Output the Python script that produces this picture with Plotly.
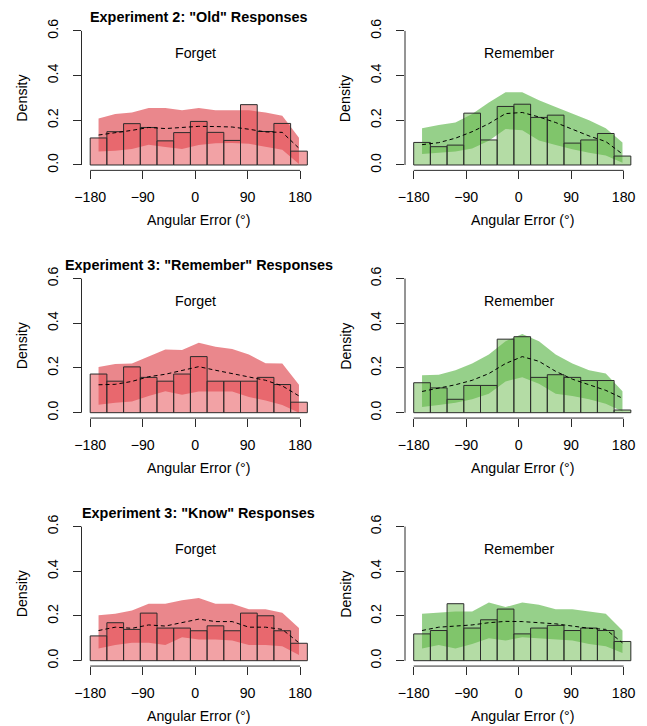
import math
import plotly.graph_objects as go

# ---------------- data ----------------
TITLES = ['Experiment 2: "Old" Responses',
          'Experiment 3: "Remember" Responses',
          'Experiment 3: "Know" Responses']
CONDITIONS = ["Forget", "Remember"]
X_TICKS = [-180, -90, 0, 90, 180]
X_TICKTEXT = ["\u2212180", "\u221290", "0", "90", "180"]
Y_TICKS = [0, 0.2, 0.4, 0.6]
Y_TICKTEXT = ["0.0", "0.2", "0.4", "0.6"]
BIN_WIDTH_RAD = 0.5
N_BINS = 13

# Experiment 2, "Old" responses
old_forget_hist = [0.121, 0.149, 0.185, 0.168, 0.108, 0.145, 0.195, 0.146, 0.110, 0.270, 0.150, 0.186, 0.062]
old_forget_mean = [0.134, 0.143, 0.155, 0.168, 0.163, 0.168, 0.173, 0.172, 0.170, 0.160, 0.148, 0.146, 0.075]
old_forget_hi = [0.208, 0.228, 0.235, 0.255, 0.255, 0.245, 0.255, 0.245, 0.245, 0.245, 0.235, 0.220, 0.122]
old_forget_lo = [0.060, 0.064, 0.072, 0.091, 0.080, 0.072, 0.089, 0.097, 0.098, 0.095, 0.082, 0.068, 0.005]

old_remember_hist = [0.101, 0.082, 0.089, 0.232, 0.112, 0.262, 0.272, 0.213, 0.223, 0.098, 0.112, 0.141, 0.040]
old_remember_mean = [0.091, 0.100, 0.120, 0.149, 0.185, 0.230, 0.235, 0.215, 0.190, 0.160, 0.130, 0.105, 0.049]
old_remember_hi = [0.164, 0.179, 0.190, 0.228, 0.280, 0.325, 0.325, 0.290, 0.260, 0.230, 0.200, 0.165, 0.101]
old_remember_lo = [0.049, 0.055, 0.060, 0.074, 0.109, 0.161, 0.155, 0.110, 0.090, 0.070, 0.055, 0.042, 0.010]

# Experiment 3, "Remember" responses
rem_forget_hist = [0.173, 0.141, 0.205, 0.158, 0.141, 0.173, 0.251, 0.141, 0.141, 0.141, 0.158, 0.126, 0.047]
rem_forget_mean = [0.125, 0.127, 0.140, 0.161, 0.172, 0.190, 0.206, 0.190, 0.175, 0.160, 0.145, 0.120, 0.075]
rem_forget_hi = [0.205, 0.218, 0.220, 0.250, 0.283, 0.280, 0.313, 0.295, 0.285, 0.260, 0.221, 0.220, 0.125]
rem_forget_lo = [0.036, 0.045, 0.050, 0.075, 0.096, 0.080, 0.095, 0.095, 0.095, 0.070, 0.055, 0.035, 0.000]

rem_remember_hist = [0.134, 0.111, 0.060, 0.122, 0.122, 0.329, 0.340, 0.158, 0.170, 0.158, 0.144, 0.144, 0.012]
rem_remember_mean = [0.095, 0.110, 0.125, 0.145, 0.175, 0.220, 0.251, 0.230, 0.185, 0.150, 0.125, 0.100, 0.065]
rem_remember_hi = [0.168, 0.170, 0.190, 0.220, 0.260, 0.320, 0.352, 0.320, 0.260, 0.220, 0.190, 0.175, 0.096]
rem_remember_lo = [0.026, 0.035, 0.045, 0.060, 0.085, 0.140, 0.159, 0.130, 0.085, 0.075, 0.060, 0.040, 0.005]

# Experiment 3, "Know" responses
know_forget_hist = [0.111, 0.170, 0.140, 0.213, 0.146, 0.146, 0.134, 0.156, 0.134, 0.213, 0.201, 0.134, 0.078]
know_forget_mean = [0.135, 0.150, 0.145, 0.160, 0.155, 0.170, 0.186, 0.175, 0.175, 0.150, 0.150, 0.140, 0.080]
know_forget_hi = [0.203, 0.210, 0.225, 0.255, 0.255, 0.270, 0.280, 0.255, 0.255, 0.230, 0.230, 0.215, 0.146]
know_forget_lo = [0.055, 0.070, 0.080, 0.080, 0.070, 0.105, 0.095, 0.095, 0.090, 0.070, 0.070, 0.065, 0.025]

know_remember_hist = [0.120, 0.135, 0.255, 0.146, 0.183, 0.231, 0.120, 0.146, 0.158, 0.135, 0.146, 0.135, 0.086]
know_remember_mean = [0.135, 0.150, 0.155, 0.160, 0.170, 0.176, 0.175, 0.170, 0.165, 0.155, 0.145, 0.140, 0.080]
know_remember_hi = [0.210, 0.215, 0.220, 0.220, 0.260, 0.240, 0.260, 0.250, 0.230, 0.230, 0.220, 0.210, 0.135]
know_remember_lo = [0.055, 0.070, 0.055, 0.075, 0.100, 0.090, 0.105, 0.100, 0.095, 0.090, 0.075, 0.065, 0.035]

PANELS = [
    [(old_forget_hist, old_forget_mean, old_forget_lo, old_forget_hi),
     (old_remember_hist, old_remember_mean, old_remember_lo, old_remember_hi)],
    [(rem_forget_hist, rem_forget_mean, rem_forget_lo, rem_forget_hi),
     (rem_remember_hist, rem_remember_mean, rem_remember_lo, rem_remember_hi)],
    [(know_forget_hist, know_forget_mean, know_forget_lo, know_forget_hi),
     (know_remember_hist, know_remember_mean, know_remember_lo, know_remember_hi)],
]

# ---------------- styling ----------------
W, H = 647, 726
FONT = "Liberation Sans, Arial, Helvetica, sans-serif"
FS = 14.2
AXCOL = "#2b2b2b"
BAND = ["rgba(220,55,63,0.6)", "rgba(80,177,60,0.6)"]
BARFILL = ["rgba(230,77,82,0.52)", "rgba(106,185,75,0.5)"]

bw = BIN_WIDTH_RAD * 180 / math.pi
centers = [-180 + (k + 0.5) * bw for k in range(N_BINS)]
XR = [-194.9, 207.3]
YR = [-0.024, 0.624]

COL_LEFT = [81.5, 405.0]
PLOT_W = 234.5
ROW_Y0 = [165.0, 412.7, 660.7]   # pixel y of density 0
PX_PER_UNIT = 223.5


def px(x):
    return x / W


def py(y):
    return 1 - y / H


fig = go.Figure()
layout = dict(template="none", width=W, height=H,
              margin=dict(l=0, r=0, t=0, b=0, autoexpand=False),
              paper_bgcolor="white", plot_bgcolor="rgba(0,0,0,0)",
              showlegend=False, font=dict(family=FONT, size=FS, color="black"),
              barmode="overlay")
annotations = []
shapes = []

idx = 0
for r in range(3):
    top = ROW_Y0[r] - YR[1] * PX_PER_UNIT
    bot = ROW_Y0[r] - YR[0] * PX_PER_UNIT
    for c in range(2):
        hist, mean, lo, hi = PANELS[r][c]
        left = COL_LEFT[c]
        right = left + PLOT_W
        a_base = 2 * idx + 1
        a_over = 2 * idx + 2
        xb = "x" if a_base == 1 else f"x{a_base}"
        yb = "y" if a_base == 1 else f"y{a_base}"
        xo, yo = f"x{a_over}", f"y{a_over}"
        kx_b = "xaxis" if a_base == 1 else f"xaxis{a_base}"
        ky_b = "yaxis" if a_base == 1 else f"yaxis{a_base}"
        kx_o, ky_o = f"xaxis{a_over}", f"yaxis{a_over}"
        dom_x = [px(left), px(right)]
        dom_y = [py(bot), py(top)]

        layout[kx_b] = dict(domain=dom_x, range=XR, anchor=yb, showgrid=False,
                            zeroline=False, showline=False, ticks="outside",
                            ticklen=8, tickwidth=1, tickcolor=AXCOL,
                            tickvals=X_TICKS, ticktext=X_TICKTEXT, automargin=False,
                            tickfont=dict(size=FS), ticklabelstandoff=6)
        layout[ky_b] = dict(domain=dom_y, range=YR, anchor=xb, showgrid=False,
                            zeroline=False, showline=False, ticks="outside",
                            ticklen=8, tickwidth=1, tickcolor=AXCOL,
                            tickvals=Y_TICKS, ticktext=Y_TICKTEXT, tickangle=-90,
                            automargin=False,
                            tickfont=dict(size=FS), ticklabelstandoff=9)
        layout[kx_o] = dict(domain=dom_x, range=XR, anchor=yo, overlaying=xb,
                            visible=False, automargin=False)
        layout[ky_o] = dict(domain=dom_y, range=YR, anchor=xo, overlaying=yb,
                            visible=False, automargin=False)

        # predictive band (bottom layer)
        fig.add_trace(go.Scatter(x=centers + centers[::-1], y=hi + lo[::-1],
                                 fill="toself", fillcolor=BAND[c],
                                 line=dict(width=0), mode="lines",
                                 hoverinfo="skip", xaxis=xb, yaxis=yb))
        # histogram bars (above band)
        fig.add_trace(go.Bar(x=centers, y=hist, width=bw, xaxis=xo, yaxis=yo,
                             marker=dict(color=BARFILL[c],
                                         line=dict(color=AXCOL, width=1))))
        # mean prediction
        fig.add_trace(go.Scatter(x=centers, y=mean, mode="lines",
                                 line=dict(color="black", width=1, dash="4px,3px"),
                                 xaxis=xo, yaxis=yo))
        # condition label
        annotations.append(dict(x=0, y=0.5, xref=xo, yref=yo, text=CONDITIONS[c],
                                showarrow=False, font=dict(size=FS),
                                xanchor="center", yanchor="middle"))
        # axis lines spanning the tick range only
        shapes.append(dict(type="line", xref=xb, yref=f"{yb} domain",
                           x0=X_TICKS[0], x1=X_TICKS[-1], y0=0, y1=0,
                           line=dict(color=AXCOL, width=1)))
        shapes.append(dict(type="line", xref=f"{xb} domain", yref=yb,
                           x0=0, x1=0, y0=Y_TICKS[0], y1=Y_TICKS[-1],
                           line=dict(color=AXCOL, width=1)))
        # axis titles
        annotations.append(dict(x=px(left - 59.8), y=py((top + bot) / 2),
                                xref="paper", yref="paper", text="Density",
                                textangle=-90, showarrow=False,
                                font=dict(size=FS), xanchor="center",
                                yanchor="middle"))
        annotations.append(dict(x=px((left + right) / 2), y=py(ROW_Y0[r] + 55),
                                xref="paper", yref="paper",
                                text="Angular Error (\u00b0)", showarrow=False,
                                font=dict(size=FS), xanchor="center",
                                yanchor="middle"))
        if c == 0:
            annotations.append(dict(x=px((left + right) / 2), y=py(ROW_Y0[r] - 148),
                                    xref="paper", yref="paper",
                                    text="<b>" + TITLES[r] + "</b>",
                                    showarrow=False, font=dict(size=14.4),
                                    xanchor="center", yanchor="middle"))
        idx += 1

layout["annotations"] = annotations
layout["shapes"] = shapes
fig.update_layout(**layout)
fig.write_html("out.html",
               config={"displayModeBar": False},
               post_script="document.body.style.margin='0';"
                           "document.body.style.overflow='hidden';")
